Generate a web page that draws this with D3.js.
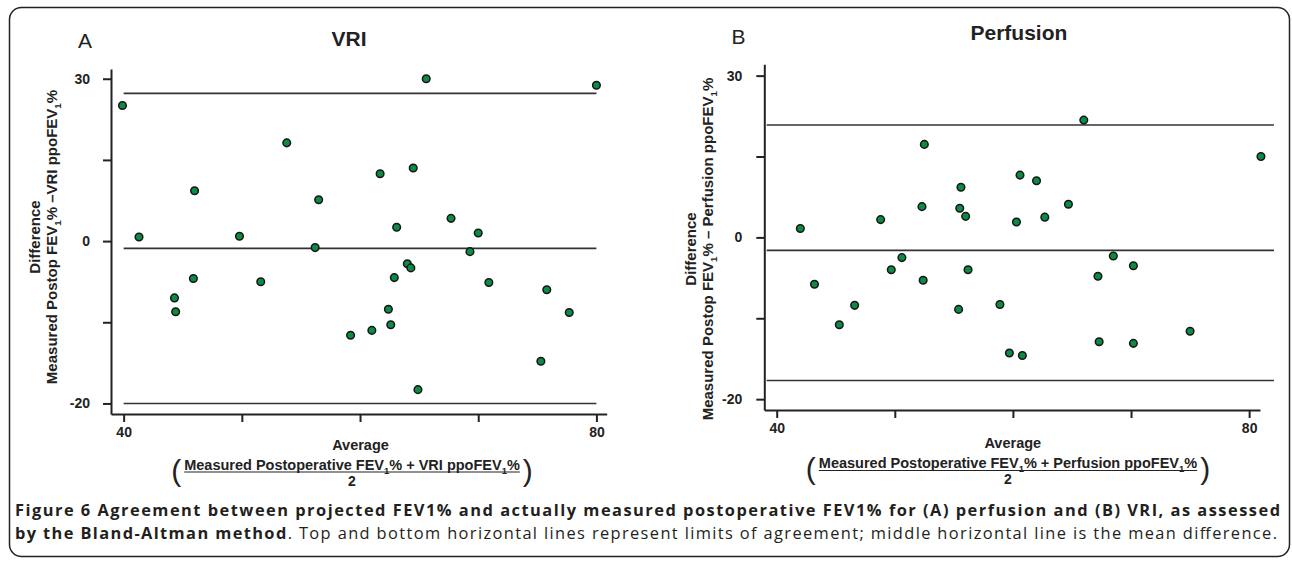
<!DOCTYPE html>
<html>
<head>
<meta charset="utf-8">
<script src="https://cdn.jsdelivr.net/npm/d3@7"></script>
<style>
  body { margin: 0; background: #fff; }
  svg { display: block; font-family: "Liberation Sans", Arial, sans-serif; }
  .axis path, .axis line { stroke: #222; stroke-width: 2; }
  .axis text { font-size: 14px; font-weight: bold; fill: #222; font-family: "Liberation Sans", Arial, sans-serif; }
  .caption { font-family: "Open Sans", sans-serif; fill: #231f20; }
</style>
</head>
<body>
<svg id="fig" width="1292" height="562"></svg>
<script>
// axis ticks (labels as printed in the figure)
const xTickValues = [40, 50, 60, 70, 80];
const xTickLabels = ["40", "", "", "", "80"];
const yTickValues = [20, 10, 0, -10, -20];
const yTickLabels = ["30", "", "0", "", "-20"];

// panel A: VRI
const vriAvg = [39.9, 53.8, 46.0, 56.5, 41.3, 49.8, 65.6, 80.0, 61.7, 64.5, 67.7, 63.1, 70.0, 56.2, 45.9, 51.6,
  44.3, 44.4, 69.3, 64.0, 64.3, 62.9, 70.9, 75.8, 62.4, 77.7, 59.2, 61.0, 62.6, 75.3, 64.9];
const vriDiff = [16.7, 12.1, 6.2, 5.1, 0.5, 0.6, 20.0, 19.2, 8.3, 9.0, 2.8, 1.7, 1.0, -0.8, -4.6, -5.0,
  -7.0, -8.7, -1.3, -2.8, -3.3, -4.5, -5.1, -6.0, -8.4, -8.8, -11.6, -11.0, -10.3, -14.8, -18.3];
const vriLimits = [18.2, -0.9, -20.0];   // upper limit, mean, lower limit
const vriLineX = [40, 80];

// panel B: Perfusion
const perfAvg = [52.5, 55.6, 52.3, 55.5, 56.0, 48.8, 42.0, 66.0, 81.0, 60.6, 62.0, 64.7, 60.3, 62.7, 43.2, 45.3,
  46.6, 49.7, 50.6, 52.4, 55.4, 56.2, 68.5, 70.2, 67.2, 58.9, 59.7, 60.8, 67.3, 70.2, 75.0];
const perfDiff = [11.5, 6.2, 3.8, 3.6, 2.6, 2.2, 1.1, 14.5, 10.0, 7.7, 7.0, 4.1, 1.9, 2.5, -5.8, -10.8,
  -8.4, -4.0, -2.5, -5.3, -8.9, -4.0, -2.3, -3.5, -4.8, -8.3, -14.3, -14.6, -12.9, -13.1, -11.6];
const perfLimits = [13.9, -1.6, -17.7];
const perfLineX = [39.15, 82.1];

const captionLine1 = "Figure 6 Agreement between projected FEV1% and actually measured postoperative FEV1% for (A) perfusion and (B) VRI, as assessed";
const captionBold2 = "by the Bland-Altman method";
const captionRest2 = ". Top and bottom horizontal lines represent limits of agreement; middle horizontal line is the mean difference.";

const svg = d3.select("#fig");

// rounded frame
svg.append("rect")
  .attr("x", 9.5).attr("y", 7.5)
  .attr("width", 1280).attr("height", 549)
  .attr("rx", 12)
  .attr("fill", "none")
  .attr("stroke", "#222")
  .attr("stroke-width", 1.5);

// write text made of parts, array parts become subscripts
function richText(sel, parts) {
  let down = false;
  parts.forEach(pt => {
    const sub = Array.isArray(pt);
    const t = sel.append("tspan").text(sub ? pt[0] : pt);
    if (sub) {
      t.attr("font-size", "0.65em").attr("dy", 4);
      down = true;
    } else if (down) {
      t.attr("dy", -4);
      down = false;
    }
  });
  return sel;
}

function drawPanel(p) {
  const x = d3.scaleLinear().domain(p.xDomain).range(p.xRange);
  const y = d3.scaleLinear().domain(p.yDomain).range(p.yRange);
  const g = svg.append("g");

  g.append("g")
    .attr("class", "axis")
    .attr("transform", `translate(0,${p.yRange[0]})`)
    .call(d3.axisBottom(x).tickValues(xTickValues).tickFormat((d, i) => xTickLabels[i])
      .tickSize(8).tickSizeOuter(0).tickPadding(5));

  g.append("g")
    .attr("class", "axis")
    .attr("transform", `translate(${p.xRange[0]},0)`)
    .call(d3.axisLeft(y).tickValues(yTickValues).tickFormat((d, i) => yTickLabels[i])
      .tickSize(8).tickSizeOuter(0).tickPadding(p.yPad));

  // limits of agreement and mean difference
  g.selectAll(".ref")
    .data(p.limits)
    .enter()
    .append("line")
    .attr("x1", x(p.lineX[0]))
    .attr("x2", x(p.lineX[1]))
    .attr("y1", d => y(d))
    .attr("y2", d => y(d))
    .attr("stroke", "#333")
    .attr("stroke-width", 1.6);

  g.selectAll(".dot")
    .data(p.avg.map((a, i) => [a, p.diff[i]]))
    .enter()
    .append("circle")
    .attr("cx", d => x(d[0]))
    .attr("cy", d => y(d[1]))
    .attr("r", 3.8)
    .attr("fill", "#0a8c43")
    .attr("stroke", "#151515")
    .attr("stroke-width", 1.5);

  // panel letter + title
  g.append("text").attr("x", p.letterPos[0]).attr("y", p.letterPos[1])
    .attr("font-size", 21).attr("fill", "#222").text(p.letter);
  g.append("text").attr("x", p.titlePos[0]).attr("y", p.titlePos[1])
    .attr("font-size", 21).attr("font-weight", "bold").attr("fill", "#222").text(p.title);

  // y label (two rotated lines)
  const yl = g.append("g")
    .attr("transform", `translate(0,${p.yLabelCy}) rotate(-90)`)
    .attr("font-size", 15).attr("font-weight", "bold").attr("fill", "#222")
    .attr("text-anchor", "middle");
  yl.append("text").attr("y", p.yLabelX[0]).text("Difference");
  richText(yl.append("text").attr("y", p.yLabelX[1]),
    ["Measured Postop FEV", ["1"], "% " + p.yMinus + " ppoFEV", ["1"], "%"]);

  // x label: Average ( numerator / 2 )
  const xl = g.append("g").attr("font-weight", "bold").attr("fill", "#222");
  xl.append("text").attr("x", p.avgX).attr("y", p.xLabelY)
    .attr("font-size", 14.5).attr("text-anchor", "middle").text("Average");
  const num = richText(xl.append("text").attr("x", p.fracX).attr("y", p.xLabelY + 20)
      .attr("font-size", 14.5).attr("text-anchor", "middle"),
    ["Measured Postoperative FEV", ["1"], "% + " + p.title + " ppoFEV", ["1"], "%"]);
  const w = num.node().getComputedTextLength();
  const x0 = p.fracX - w / 2, x1 = p.fracX + w / 2;
  xl.append("line").attr("x1", x0).attr("x2", x1)
    .attr("y1", p.xLabelY + 22.5).attr("y2", p.xLabelY + 22.5)
    .attr("stroke", "#222").attr("stroke-width", 1.2);
  xl.append("text").attr("x", p.fracX).attr("y", p.xLabelY + 36)
    .attr("font-size", 14).attr("text-anchor", "middle").text("2");
  xl.append("text").attr("x", x0 - 3).attr("y", p.xLabelY + 31)
    .attr("font-size", 30).attr("font-weight", "normal").attr("text-anchor", "end").text("(");
  xl.append("text").attr("x", x1 + 3).attr("y", p.xLabelY + 31)
    .attr("font-size", 30).attr("font-weight", "normal").attr("text-anchor", "start").text(")");
}

drawPanel({
  letter: "A", title: "VRI", yMinus: "\u2013VRI",
  avg: vriAvg, diff: vriDiff, limits: vriLimits, lineX: vriLineX,
  xDomain: [38.93, 80.87], xRange: [111, 606.7],
  yDomain: [-21.3, 21.2], yRange: [414, 69], yPad: 13,
  letterPos: [78, 48], titlePos: [331.5, 46],
  yLabelCy: 237, yLabelX: [40, 57],
  avgX: 360.5, xLabelY: 449.5, fracX: 352
});

drawPanel({
  letter: "B", title: "Perfusion", yMinus: "\u2013 Perfusion",
  avg: perfAvg, diff: perfDiff, limits: perfLimits, lineX: perfLineX,
  xDomain: [38.95, 80.92], xRange: [764.3, 1260],
  yDomain: [-21.34, 21.4], yRange: [410, 64.3], yPad: 14,
  letterPos: [731.5, 44], titlePos: [970.5, 40],
  yLabelCy: 249, yLabelX: [696, 713],
  avgX: 1012.8, xLabelY: 448, fracX: 1008
});

// caption, justified across the frame like the original
svg.append("text").attr("class", "caption")
  .attr("x", 15).attr("y", 515.5)
  .attr("font-size", 16.4)
  .attr("font-weight", "bold")
  .attr("textLength", 1265).attr("lengthAdjust", "spacing")
  .text(captionLine1);

const cap2 = svg.append("text").attr("class", "caption")
  .attr("x", 15).attr("y", 538.5)
  .attr("font-size", 16.4)
  .attr("textLength", 1262).attr("lengthAdjust", "spacing");
cap2.append("tspan").attr("font-weight", "bold").text(captionBold2);
cap2.append("tspan").text(captionRest2);
</script>
</body>
</html>
